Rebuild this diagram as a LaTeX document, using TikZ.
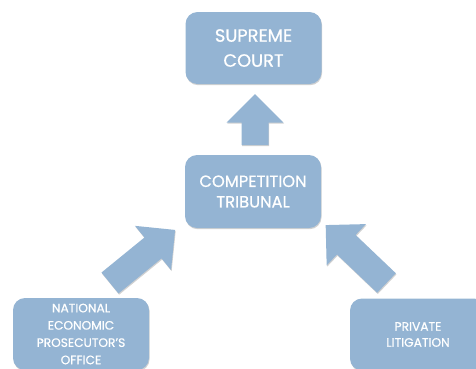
\documentclass[tikz,border=0pt]{standalone}
\usepackage{fontspec}
\setmainfont{Poppins}[FakeBold=0.7]
\usetikzlibrary{shadows}
\definecolor{boxblue}{RGB}{148,180,211}
\tikzset{
  x=1pt, y=-1pt,
  softshadow/.style={drop shadow={shadow xshift=0.6pt, shadow yshift=-1.2pt, opacity=0.18, fill=black}},
  box/.style={fill=boxblue, rounded corners=12pt, minimum width=136pt, minimum height=72pt,
    inner sep=0pt, align=center, text=white, softshadow},
  bigtext/.style={font=\fontsize{17.8}{25}\selectfont},
  midtext/.style={font=\fontsize{16.3}{20.5}\selectfont},
  smalltext/.style={font=\fontsize{12.2}{17.3}\selectfont},
  smalltextb/.style={font=\fontsize{12.2}{16}\selectfont},
  arrowfill/.style={fill=boxblue, softshadow},
}
\newcommand\blockarrow[3]{%
  \begin{scope}[shift={(#1)}, rotate=#2]
    \path[arrowfill] (0,-13.5) -- (#3-28.5,-13.5) -- (#3-28.5,-28.5) -- (#3,0)
      -- (#3-28.5,28.5) -- (#3-28.5,13.5) -- (0,13.5) -- cycle;
  \end{scope}}
\begin{document}
\begin{tikzpicture}
\useasboundingbox (0,0) rectangle (476,368);
\node[box, bigtext] (sc) at (253.5,48) {SUPREME\\COURT};
\node[box, midtext, minimum height=73pt] (ct) at (253,191.5) {COMPETITION\\TRIBUNAL};
\node[box, smalltext] (ne) at (81,334) {NATIONAL\\ECONOMIC\\PROSECUTOR'S\\OFFICE};
\node[box, smalltextb] (pl) at (418,334.5) {PRIVATE\\LITIGATION};
\blockarrow{255,145}{90}{51}
\blockarrow{110,283}{39.2}{84}
\blockarrow{386.5,283}{136.4}{84}
\end{tikzpicture}
\end{document}
